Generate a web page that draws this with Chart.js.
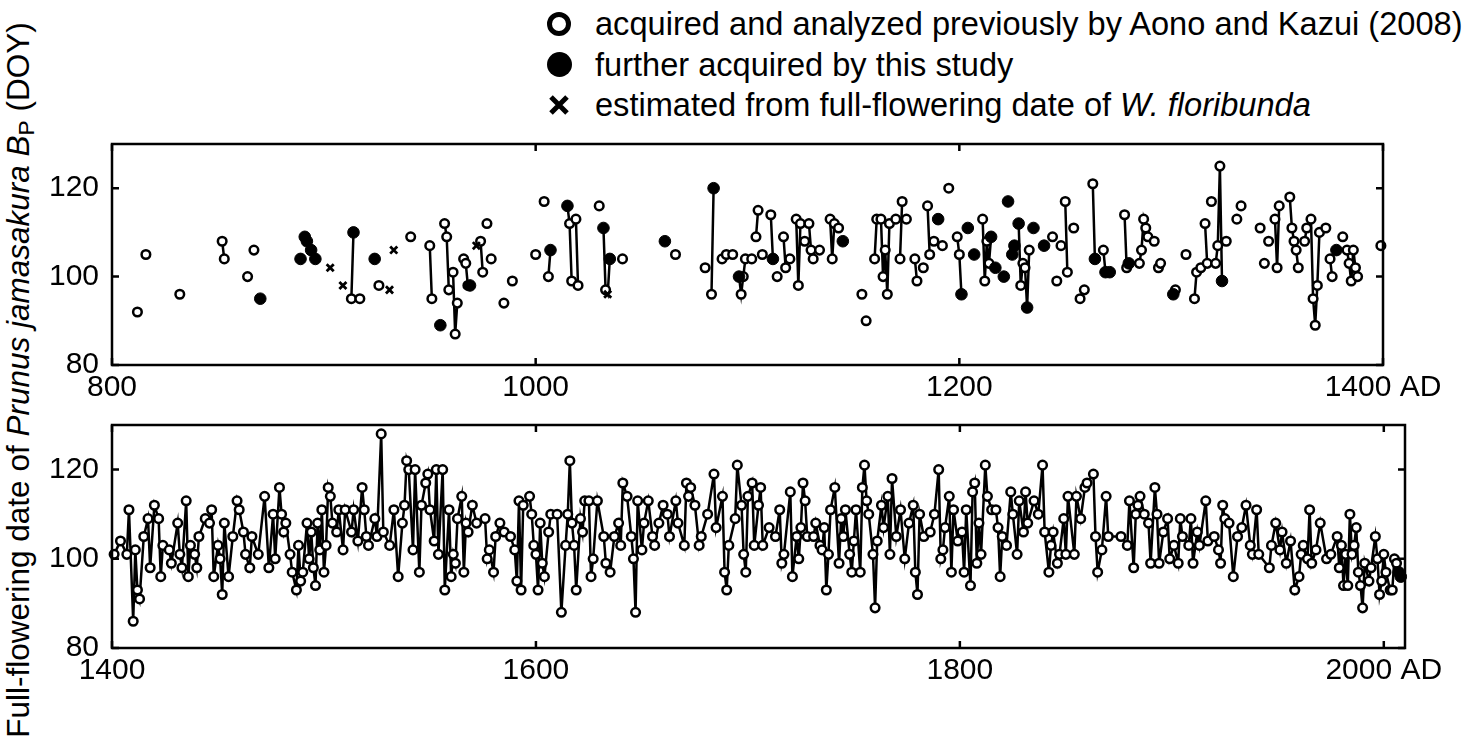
<!DOCTYPE html>
<html>
<head>
<meta charset="utf-8">
<script src="https://cdn.jsdelivr.net/npm/chart.js@4.4.0/dist/chart.umd.min.js"></script>
<style>
  body { margin: 0; background: #fff; width: 1477px; height: 744px; position: relative; overflow: hidden;
         font-family: "Liberation Sans", Arial, sans-serif; color: #000; }
  #legend { position: absolute; left: 546px; top: 4px; font-size: 32.6px; }
  .row { display: flex; align-items: center; height: 40.5px; white-space: nowrap; }
  .mk { width: 26px; height: 26px; margin-right: 23px; display: flex; align-items: center; justify-content: center; }
  .open { width: 14px; height: 14px; border: 5px solid #000; border-radius: 50%; }
  .full { width: 25px; height: 25px; background: #000; border-radius: 50%; }
  #ytitle { position: absolute; left: -362px; top: 360px; width: 760px; height: 40px; line-height: 40px;
            text-align: center; font-size: 31.5px; white-space: nowrap; transform: rotate(-90deg); }
  #ytitle sub { font-size: 0.72em; vertical-align: -0.2em; }
  .panel { position: absolute; left: 0; }
</style>
</head>
<body>
<div id="legend">
  <div class="row"><div class="mk"><div class="open"></div></div>acquired and analyzed previously by Aono and Kazui (2008)</div>
  <div class="row"><div class="mk"><div class="full"></div></div>further acquired by this study</div>
  <div class="row"><div class="mk"><svg width="22" height="22"><path d="M3 3 L19 19 M19 3 L3 19" stroke="#000" stroke-width="5"/></svg></div>estimated from full-flowering date of <i>&nbsp;W. floribunda</i></div>
</div>
<div id="ytitle">Full-flowering date of <i>Prunus jamasakura</i> <i>B</i><sub>P</sub> (DOY)</div>
<div class="panel" style="top:120px"><canvas id="topChart" width="1477" height="290"></canvas></div>
<div class="panel" style="top:400px"><canvas id="bottomChart" width="1477" height="290"></canvas></div>
<script>
// 800-1400 AD: previously analysed (open), newly acquired (filled), estimated from Wisteria (x)
var openYears = [812,816,832,852,853,864,867,913,917,926,941,950,951,957,958,959,961,962,963,966,967,968,974,975,977,979,985,989,
  1000,1004,1006,1016,1017,1019,1020,1030,1033,1041,1066,1080,1083,1088,1090,1093,1097,1098,1099,1102,1104,1105,1107,1111,
  1114,1117,1118,1120,1123,1124,1125,1127,1129,1130,1131,1134,1139,1140,1141,1143,1154,1156,1160,1161,1163,1164,1165,1166,
  1167,1170,1172,1173,1175,1179,1180,1183,1185,1186,1188,1192,1195,1199,1200,1211,1212,1213,1214,1229,1230,1231,1233,1244,
  1246,1248,1250,1251,1254,1257,1259,1263,1268,1278,1279,1285,1286,1287,1288,1289,1292,1294,1295,1302,1307,1311,1312,1314,
  1316,1317,1319,1321,1322,1323,1326,1331,1333,1342,1344,1346,1349,1350,1351,1356,1357,1358,1359,1360,1363,1364,1366,1367,
  1368,1369,1370,1373,1375,1376,1381,1383,1384,1385,1386,1387,1388,1399];
var openDoy = [92,105,96,108,104,100,106,95,95,98,109,107,95,112,109,97,101,87,94,104,103,98,108,101,112,104,94,99,
  105,117,100,112,99,113,98,116,97,104,105,102,96,104,105,105,96,100,104,104,109,115,105,114,
  100,109,102,104,113,98,112,108,112,106,104,106,113,104,112,111,96,90,104,113,113,100,106,96,
  112,113,104,117,113,104,99,102,116,105,108,107,120,109,105,113,99,108,103,98,103,102,106,109,
  99,107,117,101,111,95,97,121,106,114,102,103,106,113,111,109,108,102,103,97,105,95,101,102,
  112,103,117,103,107,125,108,113,116,111,103,108,113,102,116,118,111,108,106,102,108,111,113,95,
  89,98,110,111,104,100,109,106,103,99,106,102,100,107];

var newYears = [870,889,891,892,894,896,914,924,955,969,1007,1015,1032,1035,1061,1084,1096,1112,1145,1190,1201,1204,1207,
  1215,1217,1221,1223,1225,1226,1228,1232,1235,1240,1264,1269,1271,1280,1301,1324,1378];
var newDoy = [95,104,109,108,106,104,110,104,89,98,106,116,111,104,108,120,100,104,108,113,96,111,105,
  109,102,100,117,105,107,112,93,111,107,104,101,101,103,96,99,106];

var estYears = [903,909,931,933,972,1034];
var estDoy = [102,98,97,106,107,96];

// 1400-2008 AD
var bottomYears = [
  1401,1404,1407,1408,1410,1411,1412,1413,1415,1417, 1418,1420,1422,1423,1424,1427,1428,1431,1432,1433,
  1435,1436,1437,1439,1440,1441,1444,1446,1447,1448, 1450,1451,1452,1453,1455,1457,1459,1460,1462,1463,
  1465,1466,1469,1472,1474,1476,1477,1479,1480,1481, 1482,1484,1485,1487,1488,1489,1490,1492,1493,1494,
  1495,1496,1497,1498,1499,1500,1501,1502,1503,1504, 1506,1507,1509,1510,1513,1514,1516,1518,1519,1520,
  1521,1524,1525,1527,1528,1531,1533,1535,1537,1538, 1539,1540,1542,1543,1545,1546,1548,1549,1550,1552,
  1553,1554,1556,1557,1559,1560,1561,1562,1563,1565, 1566,1567,1568,1570,1572,1576,1577,1578,1580,1581,
  1583,1585,1588,1590,1591,1592,1593,1594,1597,1598, 1599,1600,1601,1602,1603,1604,1606,1607,1610,1612,
  1614,1615,1616,1617,1618,1619,1621,1622,1623,1625, 1626,1627,1629,1632,1633,1635,1637,1639,1640,1641,
  1643,1645,1646,1647,1648,1650,1651,1653,1655,1656, 1658,1660,1662,1663,1666,1667,1670,1671,1672,1673,
  1675,1677,1678,1681,1684,1685,1688,1689,1690,1691, 1694,1695,1697,1698,1699,1700,1702,1703,1705,1706,
  1707,1710,1713,1715,1716,1717,1720,1721,1723,1724, 1725,1726,1727,1728,1731,1732,1734,1735,1736,1737,
  1738,1739,1741,1743,1744,1745,1746,1748,1749,1750, 1751,1753,1754,1755,1756,1757,1759,1760,1761,1763,
  1764,1766,1767,1768,1770,1772,1774,1776,1778,1779, 1780,1781,1783,1786,1788,1790,1791,1792,1793,1795,
  1796,1797,1799,1801,1802,1803,1805,1806,1807,1808, 1809,1810,1812,1813,1815,1817,1818,1819,1820,1822,
  1824,1825,1827,1828,1830,1831,1832,1835,1837,1839, 1840,1842,1843,1844,1846,1847,1849,1850,1851,1854,
  1855,1857,1859,1860,1863,1864,1865,1867,1869,1870, 1876,1879,1880,1882,1883,1884,1885,1887,1889,1890,
  1892,1893,1894,1896,1898,1899,1901,1903,1904,1905, 1908,1909,1910,1912,1913,1916,1917,1920,1922,1923,
  1924,1925,1927,1929,1931,1933,1935,1937,1938,1940, 1941,1946,1947,1949,1951,1952,1954,1956,1958,1960,
  1961,1962,1964,1965,1966,1968,1970,1973,1975,1978, 1979,1980,1981,1982,1983,1984,1985,1986,1987,1988,
  1989,1990,1991,1993,1994,1996,1997,1998,1999,2000, 2001,2003,2004,2005,2006,2007,2008];
var bottomDoy = [
  101,104,101,111,86,102,93,91,105,109, 98,112,109,96,103,102,99,108,101,98,
  113,96,103,101,98,105,109,108,111,96, 103,100,92,108,96,105,113,111,106,101,
  98,105,101,114,98,110,100,116,110,106, 108,101,97,93,103,95,97,108,100,106,
  98,94,108,102,111,97,103,116,114,108, 106,111,102,111,106,111,104,116,111,105,
  103,109,105,128,106,103,111,96,108,112, 122,120,102,120,97,112,117,119,111,104,
  120,101,120,93,111,96,101,99,109,114, 97,108,106,112,108,109,100,102,97,105,
  108,106,105,102,95,113,93,112,114,110, 103,101,93,108,99,96,106,110,110,88,
  103,110,122,108,103,93,109,106,113,113, 96,100,113,105,99,97,105,108,103,117,
  114,105,100,88,113,102,108,113,105,103, 108,112,110,105,113,108,103,117,114,116,
  112,103,105,110,119,107,114,97,93,103, 109,121,112,101,97,114,117,103,112,116,
  103,107,105,111,99,101,115,96,105,100, 107,117,113,105,105,108,103,102,107,93,
  101,111,116,99,109,105,111,101,97,104, 111,97,116,121,113,110,101,89,104,112,
  107,114,101,118,105,111,100,108,112,97, 92,110,105,106,110,120,100,102,107,114,
  97,111,104,106,97,111,94,115,117,99, 108,101,121,114,111,111,107,96,105,103,
  115,110,101,113,106,115,108,113,110,121, 106,97,103,106,99,101,109,101,114,101,
  114,109,116,117,119,105,97,102,114,105, 105,103,113,98,110,112,114,110,108,99,
  116,110,99,106,109,100,103,99,109,105, 103,109,99,106,103,113,104,105,102,99,
  112,109,108,96,105,107,112,103,101,111, 101,98,103,108,102,106,99,104,93,96,
  101,103,100,111,99,102,108,100,101,105, 98,103,94,101,94,110,101,103,107,97,
  94,89,99,95,98,105,100,92,95,101, 97,93,93,100,99,97,96];
var bottomNewYears = [2007, 2008];

var topXTicks = [800, 1000, 1200, 1400];
var bottomXTicks = [1400, 1600, 1800, 2000];
var yTicks = [80, 100, 120];

Chart.defaults.font.family = '"Liberation Sans", Arial, sans-serif';
Chart.defaults.font.size = 30;
Chart.defaults.color = '#000';

function pts(years, doy) {
  return years.map(function (y, i) { return { x: y, y: doy[i] }; });
}

// box round the plot with short ticks pointing inward on all four sides
var frame = {
  id: 'frame',
  afterDraw: function (chart) {
    var ctx = chart.ctx, a = chart.chartArea, xs = chart.scales.x, ys = chart.scales.y;
    ctx.save();
    ctx.strokeStyle = '#000';
    ctx.lineWidth = 2.5;
    ctx.strokeRect(a.left, a.top, a.right - a.left, a.bottom - a.top);
    ctx.beginPath();
    xs.ticks.forEach(function (t) {
      var px = xs.getPixelForValue(t.value);
      ctx.moveTo(px, a.bottom); ctx.lineTo(px, a.bottom - 7);
      ctx.moveTo(px, a.top); ctx.lineTo(px, a.top + 7);
    });
    ys.ticks.forEach(function (t) {
      var py = ys.getPixelForValue(t.value);
      ctx.moveTo(a.left, py); ctx.lineTo(a.left + 7, py);
      ctx.moveTo(a.right, py); ctx.lineTo(a.right - 7, py);
    });
    ctx.stroke();
    ctx.restore();
  }
};

function makeOptions(xmin, xmax, xticks, rightPad, topPad, xHeight) {
  return {
    responsive: false,
    animation: false,
    events: [],
    layout: { padding: { top: topPad, right: rightPad, left: 0, bottom: 0 } },
    plugins: { legend: { display: false }, tooltip: { enabled: false } },
    scales: {
      x: {
        type: 'linear', min: xmin, max: xmax,
        afterBuildTicks: function (s) { s.ticks = xticks.map(function (v) { return { value: v }; }); },
        afterFit: function (s) { s.height = xHeight; },
        grid: { display: false }, border: { display: false },
        ticks: {
          padding: 0, maxRotation: 0, autoSkip: false, font: { lineHeight: 1 },
          callback: function (v) { return v === xticks[xticks.length - 1] ? v + ' AD' : String(v); }
        }
      },
      y: {
        min: 80, max: 130,
        afterBuildTicks: function (s) { s.ticks = yTicks.map(function (v) { return { value: v }; }); },
        afterFit: function (s) { s.width = 112; },
        grid: { display: false }, border: { display: false },
        ticks: { padding: 5 }
      }
    }
  };
}

// top panel: consecutive years are joined by a line
var allTop = pts(openYears, openDoy).concat(pts(newYears, newDoy), pts(estYears, estDoy))
  .sort(function (a, b) { return a.x - b.x; });
var topLine = [];
allTop.forEach(function (p, i) {
  if (i > 0 && p.x - allTop[i - 1].x > 1) topLine.push({ x: p.x - 0.5, y: null });
  topLine.push(p);
});

new Chart(document.getElementById('topChart'), {
  type: 'line',
  data: {
    datasets: [
      { data: pts(estYears, estDoy), showLine: false, pointStyle: 'crossRot', pointRadius: 5,
        borderColor: '#000', borderWidth: 2.8, clip: false, order: 1 },
      { data: pts(newYears, newDoy), showLine: false, pointStyle: 'circle', pointRadius: 5.8,
        backgroundColor: '#000', borderColor: '#000', borderWidth: 1, clip: false, order: 1 },
      { data: pts(openYears, openDoy), showLine: false, pointStyle: 'circle', pointRadius: 4.3,
        backgroundColor: '#fff', borderColor: '#000', borderWidth: 2.5, clip: false, order: 2 },
      { data: topLine, spanGaps: false, pointRadius: 0, borderColor: '#000', borderWidth: 2.5,
        tension: 0, clip: false, order: 3 }
    ]
  },
  options: makeOptions(800, 1400, topXTicks, 94, 24, 45),
  plugins: [frame]
});

var bottomAll = pts(bottomYears, bottomDoy);
new Chart(document.getElementById('bottomChart'), {
  type: 'line',
  data: {
    datasets: [
      { data: bottomAll.filter(function (p) { return bottomNewYears.indexOf(p.x) >= 0; }), showLine: false,
        pointStyle: 'circle', pointRadius: 5.8, backgroundColor: '#000', borderColor: '#000', borderWidth: 1, clip: false, order: 1 },
      { data: bottomAll.filter(function (p) { return bottomNewYears.indexOf(p.x) < 0; }), showLine: false,
        pointStyle: 'circle', pointRadius: 4.3, backgroundColor: '#fff', borderColor: '#000', borderWidth: 2.5, clip: false, order: 2 },
      { data: bottomAll, pointRadius: 0, borderColor: '#000', borderWidth: 2.5, tension: 0, clip: false, order: 3 }
    ]
  },
  options: makeOptions(1400, 2010, bottomXTicks, 72, 25, 42),
  plugins: [frame]
});
</script>
</body>
</html>
